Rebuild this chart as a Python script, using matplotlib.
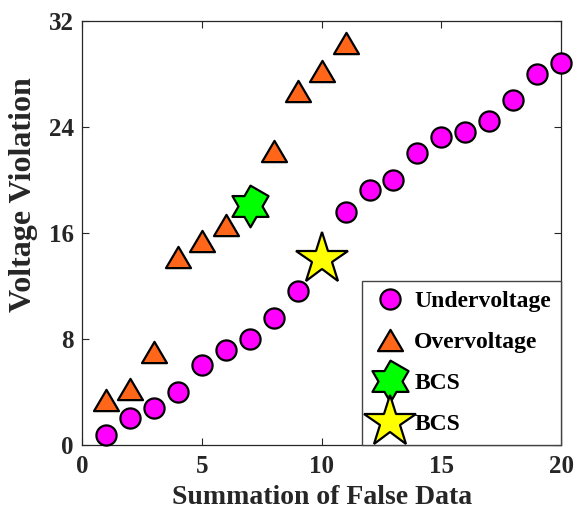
import numpy as np
import matplotlib.pyplot as plt
from matplotlib.path import Path

# numero de datos falsos y violaciones de voltaje
x_under = [1, 2, 3, 4, 5, 6, 7, 8, 9, 11, 12, 13, 14, 15, 16, 17, 18, 19, 20]
y_under = [0.75, 2.0, 2.8, 4.0, 6.0, 7.2, 8.0, 9.6, 11.6, 17.6, 19.2, 20.0,
           22.0, 23.2, 23.6, 24.4, 26.0, 28.0, 28.8]

x_over = [1, 2, 3, 4, 5, 6, 8, 9, 10, 11]
y_over = [3.4, 4.2, 7.0, 14.2, 15.4, 16.6, 22.2, 26.7, 28.2, 30.3]

x_bcs1, y_bcs1 = [7], [18.0]
x_bcs2, y_bcs2 = [10], [14.0]

xticks = [0, 5, 10, 15, 20]
yticks = [0, 8, 16, 24, 32]

plt.rcParams['font.family'] = ['Liberation Serif', 'DejaVu Serif']
plt.rcParams['font.weight'] = 'bold'
gris = '#262626'

# triangulo un poco mas ancho que alto
tri = Path([(0, 0.85), (-1, -0.85), (1, -0.85), (0, 0.85)],
           [Path.MOVETO, Path.LINETO, Path.LINETO, Path.CLOSEPOLY])

# hexagrama (estrella de 6 puntas)
ang = np.pi / 2 + np.arange(12) * np.pi / 6
rad = np.where(np.arange(12) % 2 == 0, 1.0, 0.577)
hexa = Path(np.column_stack([rad * np.cos(ang), rad * np.sin(ang)]), closed=True)

fig = plt.figure(figsize=(5.74, 5.15), dpi=100)
ax = fig.add_axes([0.1434, 0.1359, 0.834, 0.8239])

ax.plot(x_under, y_under, 'o', ms=14.5, mfc='#ff00ff', mec='k', mew=1.6,
        label='Undervoltage', zorder=3, clip_on=False)
ax.plot(x_over, y_over, marker=tri, ls='none', ms=18, mfc='#ff6619', mec='k',
        mew=1.6, label='Overvoltage', zorder=3, clip_on=False)
ax.plot(x_bcs1, y_bcs1, marker=hexa, ls='none', ms=30, mfc='#00ff00',
        mec='k', mew=1.6, label='BCS', zorder=4)
ax.plot(x_bcs2, y_bcs2, marker='*', ls='none', ms=39, mfc='#ffff00',
        mec='k', mew=1.6, label='BCS', zorder=4)

ax.set_xlim(0, 20)
ax.set_ylim(0, 32)
ax.set_xticks(xticks)
ax.set_yticks(yticks)
ax.tick_params(direction='in', top=True, right=True, length=5, width=0.8,
               labelsize=18, colors=gris)
ax.tick_params(axis='x', pad=7)
ax.tick_params(axis='y', pad=6)
for s in ax.spines.values():
    s.set_color(gris)
    s.set_linewidth(0.9)

ax.set_xlabel('Summation of False Data', fontsize=20, fontweight='bold',
              color=gris, labelpad=5)
ax.set_ylabel('Voltage Violation', fontsize=23, fontweight='bold',
              color=gris)
ax.yaxis.set_label_coords(-0.092, 0.59)

leg = ax.legend(loc='lower right', borderaxespad=0, fontsize=17,
                labelspacing=0.82, handlelength=1.5, handletextpad=0.28,
                borderpad=0.42, fancybox=False, framealpha=1, markerscale=1)
leg.get_frame().set_edgecolor('#444444')
leg.get_frame().set_linewidth(1.0)
for t in leg.get_texts():
    t.set_color('k')

fig.savefig('out.png', dpi=100)
